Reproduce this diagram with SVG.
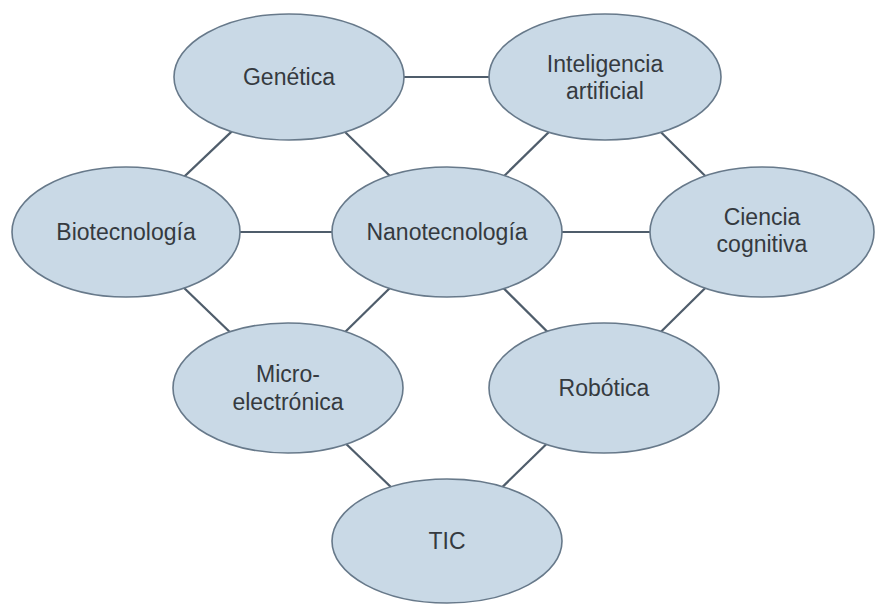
<svg xmlns="http://www.w3.org/2000/svg" width="876" height="605" viewBox="0 0 876 605">
<style>
.n ellipse{fill:#c9d9e6;stroke:#67798a;stroke-width:1.6}
.n text{font-family:"Liberation Sans",Arial,sans-serif;font-size:23px;fill:#353a3f;text-anchor:middle}
#edges line{stroke:#4f5d6b;stroke-width:2.2}
</style>
<rect width="876" height="605" fill="#ffffff"/>
<g id="edges">
<line x1="289" y1="77" x2="605" y2="77"/>
<line x1="289" y1="77" x2="126" y2="232"/>
<line x1="289" y1="77" x2="447" y2="232"/>
<line x1="605" y1="77" x2="447" y2="232"/>
<line x1="605" y1="77" x2="762" y2="232"/>
<line x1="126" y1="232" x2="447" y2="232"/>
<line x1="447" y1="232" x2="762" y2="232"/>
<line x1="126" y1="232" x2="288" y2="388"/>
<line x1="447" y1="232" x2="288" y2="388"/>
<line x1="447" y1="232" x2="604" y2="388"/>
<line x1="762" y1="232" x2="604" y2="388"/>
<line x1="288" y1="388" x2="447" y2="541"/>
<line x1="604" y1="388" x2="447" y2="541"/>
</g>
<g id="genetica" class="n"><ellipse cx="289" cy="77" rx="115" ry="63"/><text x="289" y="85">Genética</text></g>
<g id="inteligencia" class="n"><ellipse cx="605" cy="77" rx="116" ry="63"/><text x="605" y="72">Inteligencia</text><text x="605" y="99">artificial</text></g>
<g id="biotecnologia" class="n"><ellipse cx="126" cy="232" rx="114" ry="65"/><text x="126" y="240">Biotecnología</text></g>
<g id="nanotecnologia" class="n"><ellipse cx="447" cy="232" rx="115" ry="65"/><text x="447" y="240">Nanotecnología</text></g>
<g id="ciencia" class="n"><ellipse cx="762" cy="232" rx="112" ry="65"/><text x="762" y="225">Ciencia</text><text x="762" y="252">cognitiva</text></g>
<g id="microelectronica" class="n"><ellipse cx="288" cy="388" rx="115" ry="65"/><text x="288" y="382">Micro-</text><text x="288" y="410">electrónica</text></g>
<g id="robotica" class="n"><ellipse cx="604" cy="388" rx="115" ry="65"/><text x="604" y="396">Robótica</text></g>
<g id="tic" class="n"><ellipse cx="447" cy="541" rx="115" ry="62"/><text x="447" y="549">TIC</text></g>
</svg>
